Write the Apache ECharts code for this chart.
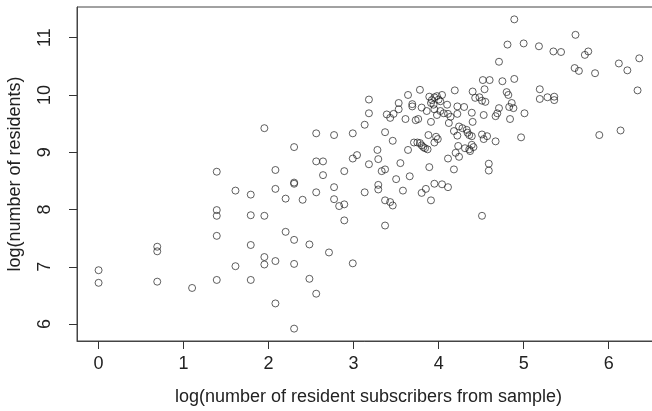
<!DOCTYPE html>
<html>
<head>
<meta charset="utf-8">
<script src="https://cdn.jsdelivr.net/npm/echarts@6/dist/echarts.min.js"></script>
<style>
  html, body { margin: 0; padding: 0; background: #fff; }
  #chart { width: 652px; height: 411px; }
</style>
</head>
<body>
<div id="chart"></div>
<script>
// log(number of resident subscribers from sample)
var logSubscribers = [
    0, 0, 0.69, 0.69, 0.69, 1.10, 1.39, 1.39, 1.39, 1.39,
    1.39, 1.61, 1.61, 1.79, 1.79, 1.79, 1.79, 1.95, 1.95, 1.95,
    1.95, 2.08, 2.08, 2.08, 2.08, 2.20, 2.20, 2.30, 2.30, 2.30,
    2.30, 2.30, 2.30, 2.40, 2.48, 2.48, 2.56, 2.56, 2.56, 2.56,
    2.64, 2.64, 2.71, 2.77, 2.77, 2.77, 2.83, 2.89, 2.89, 2.89,
    2.99, 2.99, 2.99, 3.04, 3.13, 3.13, 3.18, 3.18, 3.18, 3.28,
    3.29, 3.29, 3.29, 3.33, 3.37, 3.37, 3.37, 3.37, 3.39, 3.43,
    3.47, 3.43, 3.46, 3.46, 3.50, 3.53, 3.53, 3.55, 3.58, 3.61,
    3.64, 3.64, 3.66, 3.69, 3.69, 3.71, 3.73, 3.76, 3.75, 3.78,
    3.78, 3.80, 3.80, 3.82, 3.84, 3.87, 3.80, 3.85, 3.86, 3.88,
    3.89, 3.89, 3.91, 3.91, 3.91, 3.92, 3.94, 3.95, 3.95, 3.95,
    3.95, 3.98, 4.00, 3.98, 3.97, 3.99, 4.04, 4.02, 4.02, 4.06,
    4.11, 4.14, 4.10, 4.12, 4.11, 4.18, 4.04, 4.11, 4.19, 4.18,
    4.22, 4.30, 4.22, 4.22, 4.24, 4.28, 4.33, 4.23, 4.20, 4.24,
    4.34, 4.36, 4.39, 4.31, 4.36, 4.37, 4.39, 4.41, 4.39, 4.40,
    4.40, 4.43, 4.48, 4.51, 4.55, 4.52, 4.60, 4.54, 4.53, 4.51,
    4.57, 4.53, 4.59, 4.59, 4.51, 4.67, 4.67, 4.69, 4.71, 4.71,
    4.75, 4.80, 4.82, 4.86, 4.83, 4.88, 4.84, 4.81, 4.89, 4.89,
    4.97, 5.00, 5.01, 5.18, 5.19, 5.19, 5.28, 5.36, 5.36, 5.35,
    5.44, 5.60, 5.61, 5.65, 5.72, 5.76, 5.84, 5.89, 6.12, 6.14,
    6.22, 6.34, 6.36
];
// log(number of residents)
var logResidents = [
    6.94, 6.72, 7.35, 7.27, 6.74, 6.63, 8.66, 7.99, 7.89, 7.54,
    6.77, 8.33, 7.01, 8.26, 7.90, 7.38, 6.77, 9.42, 7.89, 7.17,
    7.04, 8.69, 8.36, 7.10, 6.36, 8.19, 7.61, 9.09, 8.47, 8.45,
    7.47, 7.05, 5.92, 8.17, 7.39, 6.79, 9.33, 8.84, 8.30, 6.53,
    8.84, 8.60, 7.25, 9.30, 8.39, 8.18, 8.06, 8.67, 8.09, 7.81,
    9.33, 8.89, 7.06, 8.95, 9.48, 8.30, 9.92, 9.68, 8.79, 9.04,
    8.88, 8.43, 8.35, 8.67, 8.70, 9.35, 8.16, 7.72, 9.66, 9.60,
    9.67, 8.13, 8.07, 9.20, 8.53, 9.86, 9.75, 8.81, 8.33, 9.58,
    10.00, 9.04, 8.58, 9.84, 9.80, 9.17, 9.56, 9.58, 9.17, 9.16,
    10.09, 9.78, 9.12, 9.09, 9.07, 9.05, 8.29, 8.36, 9.72, 9.30,
    9.97, 8.74, 9.53, 8.16, 9.86, 9.91, 9.83, 9.96, 9.75, 9.17,
    8.45, 9.98, 9.92, 9.65, 9.27, 9.23, 10.00, 9.89, 9.72, 9.68,
    9.67, 9.62, 9.83, 9.51, 8.89, 8.70, 8.44, 8.39, 10.08, 9.37,
    9.80, 9.79, 9.67, 9.29, 9.45, 9.42, 9.39, 9.11, 8.99, 8.92,
    9.34, 9.30, 9.28, 9.07, 9.05, 9.02, 9.13, 9.09, 9.69, 9.53,
    10.06, 9.95, 9.96, 9.90, 9.88, 10.26, 10.26, 10.10, 9.65, 9.31,
    9.28, 9.23, 8.80, 8.68, 7.89, 9.19, 9.63, 9.68, 9.77, 10.58,
    10.24, 10.05, 10.00, 9.86, 9.79, 9.77, 9.58, 10.88, 11.32, 10.28,
    9.26, 10.90, 9.68, 10.85, 10.10, 9.93, 9.96, 9.97, 9.91, 10.76,
    10.75, 10.47, 11.05, 10.42, 10.70, 10.76, 10.38, 9.30, 10.55, 9.38,
    10.43, 10.08, 10.64
];
var xTicks = [0, 1, 2, 3, 4, 5, 6];
var yTicks = [6, 7, 8, 9, 10, 11];

var FONT = "'Liberation Sans', Arial, sans-serif";
var INK = '#444';

function buildPoints(xs, ys) {
    var pts = [];
    for (var i = 0; i < xs.length; ++i) {
        pts.push([xs[i], ys[i]]);
    }
    return pts;
}

var chart = echarts.init(document.getElementById('chart'), null, { renderer: 'canvas' });

var option = {
    animation: false,
    backgroundColor: '#ffffff',
    grid: {
        left: 77,
        top: 7,
        right: -8,
        bottom: 70,
        outerBoundsMode: 'none',
        containLabel: false,
        show: true,
        borderColor: INK,
        borderWidth: 1,
        backgroundColor: 'transparent'
    },
    xAxis: {
        type: 'value',
        min: -0.254,
        max: 6.604,
        name: 'log(number of resident subscribers from sample)',
        nameLocation: 'middle',
        nameGap: 47,
        nameTextStyle: { fontFamily: FONT, fontSize: 18, color: '#222' },
        axisLine: { show: true, onZero: false, lineStyle: { color: INK, width: 1 } },
        splitLine: { show: false },
        axisTick: {
            show: true,
            customValues: xTicks,
            length: 8,
            lineStyle: { color: '#333', width: 1 }
        },
        axisLabel: {
            customValues: xTicks,
            margin: 14,
            fontFamily: FONT,
            fontSize: 18,
            color: '#222'
        }
    },
    yAxis: {
        type: 'value',
        min: 5.704,
        max: 11.536,
        name: 'log(number of residents)',
        nameLocation: 'middle',
        nameRotate: 90,
        nameGap: 53,
        nameTextStyle: { fontFamily: FONT, fontSize: 18, color: '#222' },
        axisLine: { show: true, onZero: false, lineStyle: { color: INK, width: 1 } },
        splitLine: { show: false },
        axisTick: {
            show: true,
            customValues: yTicks,
            length: 8,
            lineStyle: { color: '#333', width: 1 }
        },
        axisLabel: {
            customValues: yTicks,
            rotate: 90,
            margin: 23,
            fontFamily: FONT,
            fontSize: 18,
            color: '#222'
        }
    },
    series: [
        {
            type: 'scatter',
            data: buildPoints(logSubscribers, logResidents),
            symbol: 'circle',
            symbolSize: 7,
            itemStyle: {
                color: 'rgba(0,0,0,0)',
                borderColor: '#222',
                borderWidth: 0.9
            },
            emphasis: { disabled: true },
            silent: true
        }
    ]
};
chart.setOption(option);
</script>
</body>
</html>
